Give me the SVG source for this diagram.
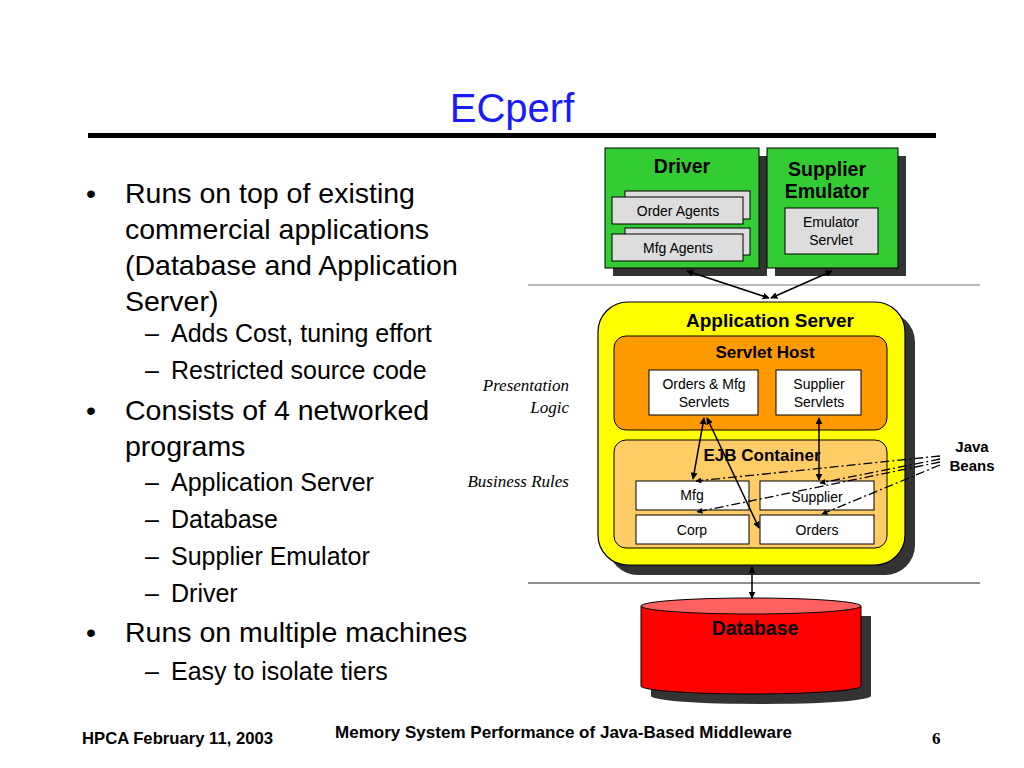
<svg xmlns="http://www.w3.org/2000/svg" width="1024" height="768" viewBox="0 0 1024 768">
<defs>
<marker id="ah" viewBox="0 0 10 10" refX="9" refY="5" markerWidth="7" markerHeight="7" orient="auto-start-reverse" markerUnits="userSpaceOnUse"><path d="M0,0 L10,5 L0,10 z" fill="#000"/></marker>
<marker id="sh" viewBox="0 0 10 10" refX="9" refY="5" markerWidth="6" markerHeight="6" orient="auto" markerUnits="userSpaceOnUse"><path d="M0,0 L10,5 L0,10 z" fill="#000"/></marker>
</defs>
<style>
.b{font-family:"Liberation Sans",Arial,sans-serif;font-size:28.5px;fill:#000}
.s{font-family:"Liberation Sans",Arial,sans-serif;font-size:25px;fill:#000}
.t{font-family:"Liberation Sans",Arial,sans-serif;font-weight:bold;text-anchor:middle;fill:#000}
.n{font-family:"Liberation Sans",Arial,sans-serif;font-size:14px;text-anchor:middle;fill:#000}
.it{font-family:"Liberation Serif","Times New Roman",serif;font-style:italic;font-size:17px;text-anchor:end;fill:#000}
.box{stroke:#000;stroke-width:1}
.shadow{fill:#333}
.conn{stroke:#000;stroke-width:1.5;fill:none}
.dd{stroke:#000;stroke-width:1.3;fill:none;stroke-dasharray:9,3,2,3}
.ft{font-family:"Liberation Sans",Arial,sans-serif;font-weight:bold;font-size:17px;fill:#000}
</style>
<rect width="1024" height="768" fill="#fff"/>
<text x="512" y="122" font-family="Liberation Sans,Arial,sans-serif" font-size="40" fill="#1a1aff" text-anchor="middle">ECperf</text>
<rect x="88" y="133" width="848" height="5" fill="#000"/>

<g id="bullets">
<text x="86" y="203" class="b">•</text><text x="125" y="203" class="b">Runs on top of existing</text>
<text x="125" y="239" class="b">commercial applications</text>
<text x="125" y="275" class="b">(Database and Application</text>
<text x="125" y="311" class="b">Server)</text>
<text x="145" y="342" class="s">–</text><text x="171" y="342" class="s">Adds Cost, tuning effort</text>
<text x="145" y="379" class="s">–</text><text x="171" y="379" class="s">Restricted source code</text>
<text x="86" y="420" class="b">•</text><text x="125" y="420" class="b">Consists of 4 networked</text>
<text x="125" y="456" class="b">programs</text>
<text x="145" y="491" class="s">–</text><text x="171" y="491" class="s">Application Server</text>
<text x="145" y="528" class="s">–</text><text x="171" y="528" class="s">Database</text>
<text x="145" y="565" class="s">–</text><text x="171" y="565" class="s">Supplier Emulator</text>
<text x="145" y="602" class="s">–</text><text x="171" y="602" class="s">Driver</text>
<text x="86" y="642" class="b">•</text><text x="125" y="642" class="b">Runs on multiple machines</text>
<text x="145" y="680" class="s">–</text><text x="171" y="680" class="s">Easy to isolate tiers</text>
</g>

<line x1="528" y1="285" x2="980" y2="285" stroke="#777" stroke-width="1.2"/>
<line x1="528" y1="583" x2="980" y2="583" stroke="#222" stroke-width="1.2"/>

<g id="driver">
<rect x="613" y="156" width="154" height="120" class="shadow"/>
<rect x="605" y="148" width="154" height="120" fill="#33cc33" class="box"/>
<text x="682" y="173" class="t" font-size="19.5">Driver</text>
<g id="order-agents">
<rect x="625" y="191" width="125" height="28" fill="#ddd" class="box"/>
<rect x="612" y="197" width="131" height="27" fill="#ddd" class="box"/>
<text x="678" y="216" class="n">Order Agents</text>
</g>
<g id="mfg-agents">
<rect x="625" y="228" width="125" height="27" fill="#ddd" class="box"/>
<rect x="612" y="234" width="131" height="27" fill="#ddd" class="box"/>
<text x="678" y="253" class="n">Mfg Agents</text>
</g>
</g>

<g id="supplier-emulator">
<rect x="775" y="156" width="131" height="120" class="shadow"/>
<rect x="767" y="148" width="131" height="120" fill="#33cc33" class="box"/>
<text x="827" y="176" class="t" font-size="19.5">Supplier</text>
<text x="827" y="198" class="t" font-size="19.5">Emulator</text>
<g id="emulator-servlet">
<rect x="785" y="208" width="93" height="46" fill="#ddd" class="box"/>
<text x="831" y="227" class="n">Emulator</text>
<text x="831" y="245" class="n">Servlet</text>
</g>
</g>

<g id="app-server">
<rect x="608" y="312" width="307" height="263" rx="30" class="shadow"/>
<rect x="598" y="302" width="307" height="263" rx="30" fill="#ffff00" stroke="#000" stroke-width="1.2"/>
<text x="770" y="327" class="t" font-size="19">Application Server</text>
<g id="servlet-host">
<rect x="614" y="336" width="273" height="94" rx="12" fill="#ff9900" class="box"/>
<text x="765" y="358" class="t" font-size="17">Servlet Host</text>
</g>
<g id="orders-mfg-servlets">
<rect x="649" y="370" width="109" height="45" fill="#fff" class="box"/>
<text x="704" y="389" class="n">Orders &amp; Mfg</text>
<text x="704" y="407" class="n">Servlets</text>
</g>
<g id="supplier-servlets">
<rect x="776" y="370" width="85" height="45" fill="#fff" class="box"/>
<text x="819" y="389" class="n">Supplier</text>
<text x="819" y="407" class="n">Servlets</text>
</g>
<g id="ejb-container">
<rect x="614" y="440" width="273" height="108" rx="12" fill="#ffcc66" class="box"/>
<text x="762" y="461" class="t" font-size="17">EJB Container</text>
</g>
<g id="mfg"><rect x="636" y="481" width="113" height="29" fill="#fff" class="box"/><text x="692" y="500" class="n">Mfg</text></g>
<g id="supplier"><rect x="760" y="481" width="114" height="29" fill="#fff" class="box"/><text x="817" y="502" class="n">Supplier</text></g>
<g id="corp"><rect x="636" y="515" width="113" height="29" fill="#fff" class="box"/><text x="692" y="535" class="n">Corp</text></g>
<g id="orders"><rect x="760" y="515" width="114" height="29" fill="#fff" class="box"/><text x="817" y="535" class="n">Orders</text></g>
</g>

<g id="database">
<path d="M651,616 L651,696 A110,8 0 0 0 871,696 L871,616 Z" class="shadow"/>
<path d="M641,606 L641,686 A110,8 0 0 0 861,686 L861,606" fill="#ff0000" stroke="#000" stroke-width="1"/>
<ellipse cx="751" cy="606" rx="110" ry="8" fill="#ff6060" stroke="#000" stroke-width="1"/>
<text x="755" y="635" class="t" font-size="19.5">Database</text>
</g>

<g id="labels">
<text x="569" y="391" class="it">Presentation</text>
<text x="569" y="413" class="it">Logic</text>
<text x="569" y="487" class="it">Business Rules</text>
<text x="972" y="452" class="t" font-size="15">Java</text>
<text x="972" y="471" class="t" font-size="15">Beans</text>
</g>

<g id="connectors">
<line x1="687" y1="271" x2="769" y2="298" class="conn" marker-start="url(#ah)" marker-end="url(#ah)"/>
<line x1="832" y1="271" x2="771" y2="298" class="conn" marker-start="url(#ah)" marker-end="url(#ah)"/>
<line x1="704" y1="418" x2="693" y2="479" class="conn" marker-start="url(#ah)" marker-end="url(#ah)"/>
<line x1="707" y1="418" x2="759" y2="528" class="conn" marker-start="url(#ah)" marker-end="url(#ah)"/>
<line x1="819" y1="418" x2="819" y2="480" class="conn" marker-start="url(#ah)" marker-end="url(#ah)"/>
<line x1="752" y1="567" x2="752" y2="598" class="conn" marker-start="url(#ah)" marker-end="url(#ah)"/>
<line x1="940" y1="456" x2="696" y2="481" class="dd" marker-end="url(#sh)"/>
<line x1="940" y1="459" x2="820" y2="483" class="dd" marker-end="url(#sh)"/>
<line x1="940" y1="462" x2="697" y2="512" class="dd" marker-end="url(#sh)"/>
<line x1="940" y1="465" x2="822" y2="514" class="dd" marker-end="url(#sh)"/>
</g>

<g id="footer">
<text x="82" y="744" class="ft" textLength="191" lengthAdjust="spacingAndGlyphs">HPCA February 11, 2003</text>
<text x="335" y="738" class="ft" textLength="457" lengthAdjust="spacingAndGlyphs">Memory System Performance of Java-Based Middleware</text>
<text x="932" y="744" font-family="Liberation Serif,serif" font-weight="bold" font-size="17">6</text>
</g>
</svg>
